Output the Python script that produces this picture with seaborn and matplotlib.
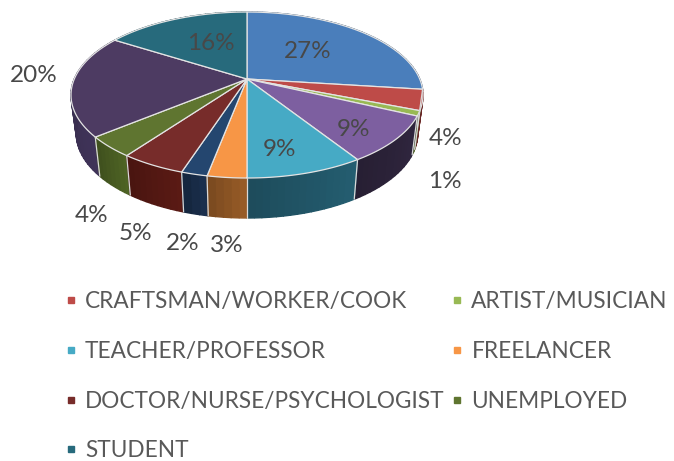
#!/usr/bin/env python
import numpy as np
import matplotlib
matplotlib.use('agg')
import matplotlib.pyplot as plt
from matplotlib.lines import Line2D
import seaborn as sns

# occupation shares, clockwise from 12 o'clock
shares = [27, 4, 1, 9, 9, 3, 2, 5, 4, 20, 16]
top_colors = ["#4a7ebb", "#be4b48", "#98b954", "#7d5fa0", "#46aac5", "#f79646",
	"#24466f", "#772c2a", "#5f7530", "#4d3b62", "#276a7c"]
side_colors = ["#2c4c70", "#7a2f2d", "#5f7530", "#30263f", "#245d70", "#975b27",
	"#1a2f4d", "#5a1a14", "#4e6324", "#3f3358", "#1c4a57"]

# only these slices are named in the legend, column by column
legend_labels = ["CRAFTSMAN/WORKER/COOK", "TEACHER/PROFESSOR", "DOCTOR/NURSE/PSYCHOLOGIST", "STUDENT",
	"ARTIST/MUSICIAN", "FREELANCER", "UNEMPLOYED"]
legend_colors = ["#be4b48", "#46aac5", "#772c2a", "#276a7c", "#98b954", "#f79646", "#5f7530"]

# label centres in picture pixels, same order as shares
label_pos = [(308, 51), (446, 138), (445, 181), (353, 129), (279, 149), (227, 245),
	(183, 243), (135, 233), (92, 215), (34, 76), (211, 43)]

CX, CY = 247, 79
A, B, K = 172.7, 79.9, 0.193
DEPTH, SX, SY = 38, 0.97, 1.02
TEXT = "#595959"


def rim(theta):
	# perspective view of the pie's unit circle, theta clockwise from top
	x, y = np.sin(theta), np.cos(theta)
	w = 1 + K * y
	return A * x / w, -B * y / w


def lower(dx, dy):
	return CX + SX * dx, CY + DEPTH + SY * dy


def darker(color, f=0.82):
	return tuple(c * f for c in matplotlib.colors.to_rgb(color))


def draw_side(ax, t0, t1, color):
	n = max(2, int(np.degrees(t1 - t0) / 2))
	edges = np.linspace(t0, t1, n + 1)
	shades = sns.blend_palette([color, darker(color)], n)
	for i in range(n):
		ts = np.linspace(edges[i], edges[i + 1], 3)
		dx, dy = rim(ts)
		bx, by = lower(dx, dy)
		ax.fill(np.r_[CX + dx, bx[::-1]], np.r_[CY + dy, by[::-1]], color=shades[i], lw=1.0)


def draw_pie(ax):
	bounds = np.radians(np.r_[0, np.cumsum(shares)] * 3.6)
	order = sorted(range(len(shares)), key=lambda i: abs(np.pi - (bounds[i] + bounds[i + 1]) / 2), reverse=True)
	for i in order:
		draw_side(ax, bounds[i], bounds[i + 1], side_colors[i])
	for t in bounds:
		if np.pi / 2 < t < 1.55 * np.pi:
			dx, dy = rim(t)
			bx, by = lower(dx, dy)
			ax.plot([CX + dx, bx], [CY + dy, by], color="#d9d9d9", lw=0.9)
	for i in range(len(shares)):
		ts = np.linspace(bounds[i], bounds[i + 1], 80)
		dx, dy = rim(ts)
		ax.fill(np.r_[CX, CX + dx], np.r_[CY, CY + dy], facecolor=top_colors[i], edgecolor="#e4e4e4", lw=0.9, joinstyle='round')
	for (x, y), v in zip(label_pos, shares):
		ax.text(x, y, "%d%%" % v, ha='center', va='center', fontsize=17.5, color="#484848")


def draw_legend(ax):
	handles = [Line2D([], [], ls='none', marker='s', ms=5, color=c, label=o) for o, c in zip(legend_labels, legend_colors)]
	ax.legend(handles=handles, ncols=2, loc='upper left', bbox_to_anchor=(64, 291), bbox_transform=ax.transData,
		frameon=False, fontsize=16.3, labelcolor=TEXT, labelspacing=1.27, columnspacing=0.25,
		handlelength=0.6, handletextpad=0.33, borderpad=0, borderaxespad=0)


def main():
	sns.set_theme(style="white")
	plt.rcParams['font.family'] = ['Lato', 'DejaVu Sans']
	fig = plt.figure(figsize=(6.74, 4.61), dpi=100)
	ax = fig.add_axes([0, 0, 1, 1])
	ax.set_xlim(0, 674)
	ax.set_ylim(461, 0)
	ax.axis('off')
	draw_pie(ax)
	draw_legend(ax)
	fig.savefig("out.png", dpi=100)


if __name__ == "__main__":
	main()
